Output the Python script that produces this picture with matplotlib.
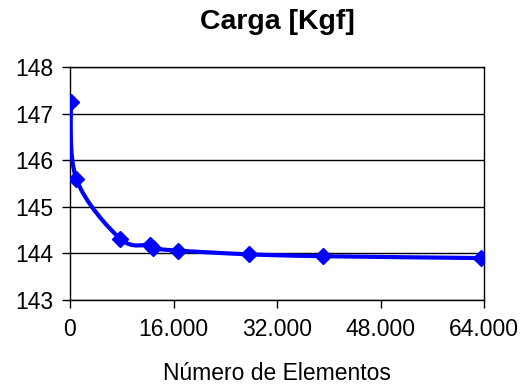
import matplotlib
matplotlib.use("Agg")
import matplotlib.pyplot as plt
from matplotlib.path import Path
from matplotlib.patches import PathPatch
from matplotlib.ticker import FuncFormatter
import numpy as np

plt.rcParams['font.family'] = ['Liberation Sans', 'DejaVu Sans']

# data
elementos = [100, 1000, 7800, 12400, 12800, 16700, 27700, 39100, 63500]
carga = [147.25, 145.59, 144.31, 144.18, 144.11, 144.06, 143.98, 143.94, 143.90]
x_ticks = [0, 16000, 32000, 48000, 64000]
y_ticks = [143, 144, 145, 146, 147, 148]

titulo = "Carga [Kgf]"
x_label = "Número de Elementos"


def smooth_path(xs, ys):
    # bezier segments (catmull-rom style) like the smoothed line in excel
    pts = np.column_stack([xs, ys])
    n = len(pts)
    verts = [pts[0]]
    codes = [Path.MOVETO]
    for i in range(n - 1):
        p0 = pts[i - 1] if i > 0 else pts[i]
        p1 = pts[i]
        p2 = pts[i + 1]
        p3 = pts[i + 2] if i + 2 < n else pts[i + 1]
        c1 = p1 + (p2 - p0) / 6.0
        c2 = p2 - (p3 - p1) / 6.0
        verts += [c1, c2, p2]
        codes += [Path.CURVE4] * 3
    return Path(verts, codes)


fig = plt.figure(figsize=(5.23, 3.89), dpi=100)
ax = fig.add_axes([70 / 523, 1 - 300 / 389, 414 / 523, 233 / 389])

ax.add_patch(PathPatch(smooth_path(elementos, carga), facecolor='none',
                       edgecolor='#0000ff', lw=3.0, zorder=3, capstyle='round'))
ax.plot(elementos, carga, linestyle='none', marker='D', markersize=8.5,
        color='#0000ff', zorder=4)

ax.set_xlim(0, 64000)
ax.set_ylim(143, 148)
ax.set_xticks(x_ticks)
ax.set_yticks(y_ticks)
ax.xaxis.set_major_formatter(FuncFormatter(lambda v, p: f"{int(v):,}".replace(",", ".")))
ax.yaxis.grid(True, color='black', lw=1)
ax.set_axisbelow(True)
for s in ax.spines.values():
    s.set_color('black')
    s.set_linewidth(1)
ax.tick_params(axis='both', labelsize=16.5, length=6, width=1, colors='black')
ax.tick_params(axis='x', pad=7)
ax.tick_params(axis='y', pad=6)

fig.text(277 / 523, 1 - 22 / 389, titulo, ha='center', va='center',
         fontsize=20.5, fontweight='bold')
fig.text(277 / 523, 1 - 373 / 389, x_label, ha='center', va='center',
         fontsize=16.5)

fig.savefig("out.png", dpi=100)
